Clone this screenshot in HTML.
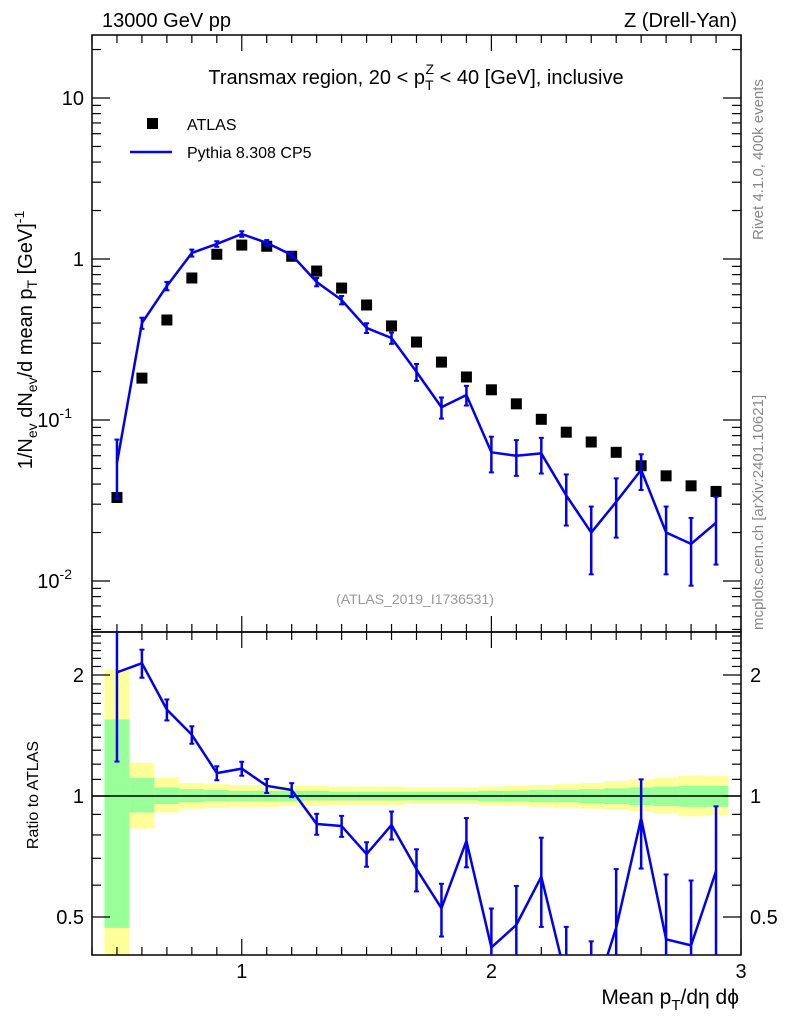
<!DOCTYPE html>
<html><head><meta charset="utf-8"><style>
html,body{margin:0;padding:0;background:#fff;width:786px;height:1024px;overflow:hidden;}
svg{display:block;font-family:"Liberation Sans",sans-serif;}
</style></head><body>
<svg id="c" width="786" height="1024" viewBox="0 0 786 1024" xmlns="http://www.w3.org/2000/svg">
<text x="102" y="27" font-size="20">13000 GeV pp</text>
<text x="737" y="27" font-size="20" text-anchor="end">Z (Drell-Yan)</text>
<text x="416" y="84" font-size="20" text-anchor="middle">Transmax region, 20 &lt; p<tspan font-size="14" dy="6">T</tspan><tspan font-size="14" dx="-8" dy="-16">Z</tspan><tspan dy="10"> &lt; 40 [GeV], inclusive</tspan></text>
<rect x="147" y="118" width="11" height="11" fill="#000"/>
<text x="187" y="130" font-size="16">ATLAS</text>
<line x1="130" y1="152" x2="172" y2="152" stroke="#0000ee" stroke-width="2.5"/>
<text x="187" y="158" font-size="16">Pythia 8.308 CP5</text>
<text x="415" y="604" font-size="14" fill="#999" text-anchor="middle">(ATLAS_2019_I1736531)</text>
<text transform="translate(763,240) rotate(-90)" font-size="15" fill="#888">Rivet 4.1.0,  400k events</text>
<text transform="translate(763,630) rotate(-90)" font-size="15" fill="#888">mcplots.cern.ch [arXiv:2401.10621]</text>
<text transform="translate(32,340) rotate(-90)" font-size="20" text-anchor="middle">1/N<tspan font-size="14" dy="5">ev</tspan><tspan dy="-5"> dN</tspan><tspan font-size="14" dy="5">ev</tspan><tspan dy="-5">/d mean p</tspan><tspan font-size="14" dy="5">T</tspan><tspan dy="-5"> [GeV]</tspan><tspan font-size="14" dy="-8">-1</tspan></text>
<text transform="translate(38,795) rotate(-90)" font-size="16" text-anchor="middle">Ratio to ATLAS</text>
<text x="739" y="1004" font-size="21" text-anchor="end">Mean p<tspan font-size="15" dy="6">T</tspan><tspan dy="-6">/dη dϕ</tspan></text>
</svg>
<script>
const xs=[0.5,0.6,0.7,0.8,0.9,1.0,1.1,1.2,1.3,1.4,1.5,1.6,1.7,1.8,1.9,2.0,2.1,2.2,2.3,2.4,2.5,2.6,2.7,2.8,2.9];
const atlas=[0.033,0.182,0.418,0.762,1.07,1.22,1.20,1.04,0.842,0.66,0.518,0.384,0.305,0.229,0.185,0.154,0.126,0.101,0.084,0.073,0.063,0.052,0.045,0.039,0.036];
const pythia=[0.054,0.40,0.68,1.09,1.24,1.43,1.26,1.06,0.72,0.556,0.373,0.323,0.199,0.12,0.143,0.063,0.06,0.062,0.034,0.020,0.031,0.049,0.020,0.017,0.023];
const relErr=[0.4,0.08,0.06,0.05,0.04,0.04,0.04,0.04,0.06,0.06,0.07,0.08,0.12,0.15,0.14,0.25,0.25,0.25,0.35,0.45,0.4,0.25,0.45,0.45,0.45];
const ratio=[2.03,2.14,1.64,1.42,1.14,1.17,1.06,1.035,0.852,0.842,0.717,0.847,0.658,0.526,0.773,0.42,0.478,0.63,0.35,0.3,0.47,0.88,0.44,0.425,0.65];
const yellowUp=[2.06,1.21,1.11,1.077,1.07,1.065,1.065,1.06,1.06,1.055,1.055,1.055,1.05,1.05,1.05,1.055,1.06,1.065,1.07,1.077,1.09,1.10,1.11,1.125,1.12];
const yellowLo=[0.3,0.83,0.91,0.93,0.935,0.94,0.94,0.945,0.945,0.95,0.95,0.95,0.955,0.955,0.955,0.95,0.945,0.94,0.935,0.93,0.925,0.915,0.905,0.89,0.895];
const greenUp=[1.55,1.11,1.05,1.04,1.035,1.03,1.03,1.03,1.03,1.025,1.025,1.025,1.025,1.025,1.025,1.03,1.03,1.035,1.035,1.04,1.045,1.05,1.055,1.06,1.06];
const greenLo=[0.47,0.91,0.955,0.965,0.97,0.97,0.97,0.97,0.975,0.975,0.975,0.975,0.975,0.975,0.975,0.97,0.97,0.965,0.965,0.96,0.955,0.95,0.945,0.94,0.94];
const mainTicks=[0.01,0.1,1,10];
const mainTickLabels=["10","10","1","10"];
const mainTickExp=["-2","-1","",""];
const ratioTicks=[0.5,1,2];
const xTicks=[1,2,3];

const svg=document.getElementById('c');
const NS='http://www.w3.org/2000/svg';
const L=92,R=741,T1=35,B1=632,T2=632,B2=955;
const cl=(v,a,b)=>Math.max(a,Math.min(b,v));
const X=v=>L+(v-0.4)/(2.6)*(R-L);
const Yraw=v=>259-Math.log10(v)*161;
const YRraw=v=>796-Math.log10(v)*402;
const Y=v=>cl(Yraw(v),T1,B1);
const YR=v=>cl(YRraw(v),T2,B2);
function mk(tag,attrs,parent){const e=document.createElementNS(NS,tag);for(const k in attrs)e.setAttribute(k,attrs[k]);(parent||svg).appendChild(e);return e;}

const bg=mk('g',{});


xs.forEach((x,i)=>{
  const x0=X(x-0.05),x1=X(x+0.05);
  const y=mk('rect',{x:x0,y:YR(yellowUp[i]),width:x1-x0,height:YR(yellowLo[i])-YR(yellowUp[i]),fill:'#ffff99'},bg);
  
  
  const g=mk('rect',{x:x0,y:YR(greenUp[i]),width:x1-x0,height:YR(greenLo[i])-YR(greenUp[i]),fill:'#99ff99'},bg);
  
  
});
const one=mk('line',{x1:L,x2:R,y1:YR(1),y2:YR(1),stroke:'#000','stroke-width':1.5});



[[T1,B1],[T2,B2]].forEach(([t,b],k)=>{const r=mk('rect',{x:L,y:t,width:R-L,height:b-t,fill:'none',stroke:'#000','stroke-width':1.5});

});

for(let v=0.4;v<=3.001;v+=0.1){const major=Math.abs(v-Math.round(v))<1e-6;const len=major?16:8;const x=X(v);
 [[B1,-1],[T1,1],[B2,-1],[T2,1]].forEach(([y,d])=>mk('line',{x1:x,x2:x,y1:y,y2:y+d*len,stroke:'#000','stroke-width':1.2}));}
xTicks.forEach(v=>{const t=mk('text',{x:X(v),y:978,'font-size':20,'text-anchor':'middle'});t.textContent=v;

});

for(let d=-3;d<=1;d++)for(let m=1;m<10;m++){const v=m*Math.pow(10,d);const y=Yraw(v);if(y<T1||y>B1)continue;const len=m==1?18:9;
 mk('line',{x1:L,x2:L+len,y1:y,y2:y,stroke:'#000','stroke-width':1.2});mk('line',{x1:R,x2:R-len,y1:y,y2:y,stroke:'#000','stroke-width':1.2});}
mainTicks.forEach((v,i)=>{const t=mk('text',{x:mainTickExp[i]?72:84,y:Y(v)+7,'font-size':20,'text-anchor':'end'});t.textContent=mainTickLabels[i];
 if(mainTickExp[i]){const s=mk('tspan',{'font-size':14,dy:-9},t);s.textContent=mainTickExp[i];}
 
 });

for(let v=0.4;v<=2.6;v+=0.1){const y=YRraw(v);if(y<T2||y>B2)continue;const major=[0.5,1,2].some(a=>Math.abs(a-v)<1e-6);const len=major?18:9;
 mk('line',{x1:L,x2:L+len,y1:y,y2:y,stroke:'#000','stroke-width':1.2});mk('line',{x1:R,x2:R-len,y1:y,y2:y,stroke:'#000','stroke-width':1.2});}
ratioTicks.forEach(v=>{[[84,'end'],[750,'start']].forEach(([x,a])=>{const t=mk('text',{x:x,y:YR(v)+7,'font-size':20,'text-anchor':a});t.textContent=v;

});});

xs.forEach((x,i)=>{const r=mk('rect',{x:X(x)-5.5,y:Y(atlas[i])-5.5,width:11,height:11,fill:'#000'});

});

// clipped line segments
function drawLine(g,vals,yf,top,bot,name){
  let d='';
  for(let i=0;i<vals.length-1;i++){
    let x1=X(xs[i]),y1=yf(vals[i]),x2=X(xs[i+1]),y2=yf(vals[i+1]);
    if((y1>bot&&y2>bot)||(y1<top&&y2<top))continue;
    const cut=(xa,ya,xb,yb,lim)=>[xa+(xb-xa)*(lim-ya)/(yb-ya),lim];
    if(y1>bot)[x1,y1]=cut(x1,y1,x2,y2,bot);
    if(y2>bot)[x2,y2]=cut(x1,y1,x2,y2,bot);
    if(y1<top)[x1,y1]=cut(x1,y1,x2,y2,top);
    if(y2<top)[x2,y2]=cut(x1,y1,x2,y2,top);
    d+='M'+x1+' '+y1+'L'+x2+' '+y2;
  }
  const p=mk('path',{d:d,fill:'none',stroke:'#0000ee','stroke-width':2.5,'stroke-linejoin':'round'},g);
  
  
}
function ebar(g,x,y1,y2,top,bot){if(y1>bot||y2<top)return;const a=cl(y1,top,bot),b=cl(y2,top,bot);
 mk('line',{x1:x,x2:x,y1:a,y2:b,stroke:'#0000ee','stroke-width':2.5},g);
 if(y1>=top)mk('line',{x1:x-2.5,x2:x+2.5,y1:a,y2:a,stroke:'#0000ee','stroke-width':2},g);
 if(y2<=bot)mk('line',{x1:x-2.5,x2:x+2.5,y1:b,y2:b,stroke:'#0000ee','stroke-width':2},g);}

const gm=mk('g',{});
drawLine(gm,pythia,Yraw,T1,B1,'pythia-line');
xs.forEach((x,i)=>{const e=relErr[i];ebar(gm,X(x),Yraw(pythia[i]*(1+e)),Yraw(pythia[i]*Math.max(1-e,0.05)),T1,B1);});

const gr=mk('g',{});
drawLine(gr,ratio,YRraw,T2,B2,'pythia-ratio-line');
xs.forEach((x,i)=>{const e=relErr[i];ebar(gr,X(x),YRraw(ratio[i]*(1+e)),YRraw(ratio[i]*Math.max(1-e,0.05)),T2,B2);});
</script>
</body></html>
